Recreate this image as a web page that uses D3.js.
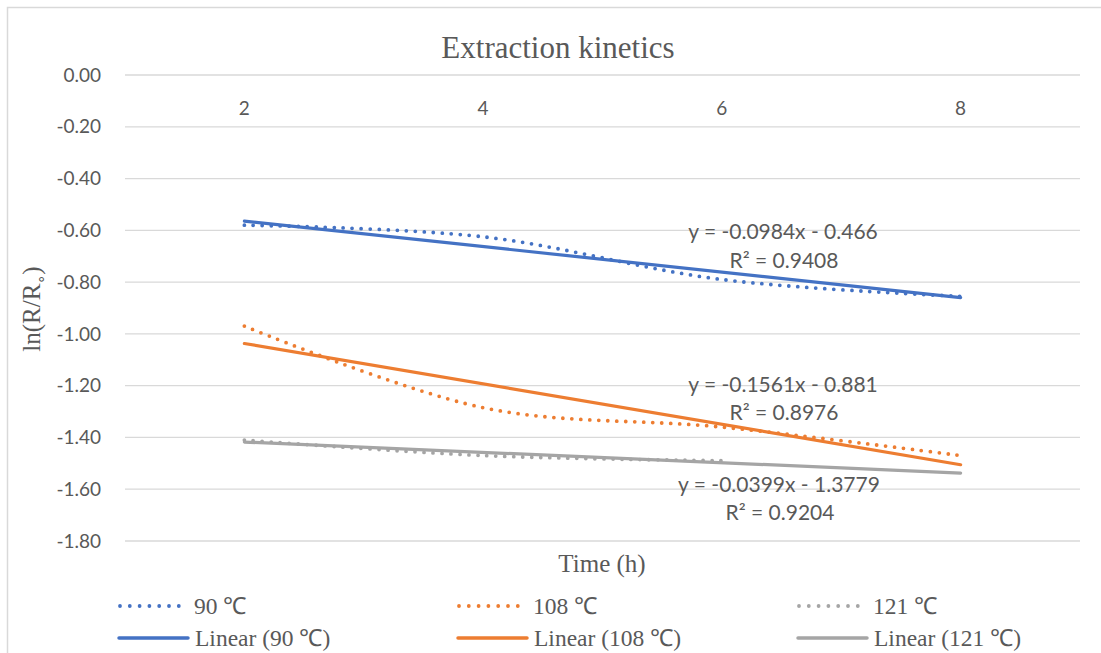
<!DOCTYPE html>
<html>
<head>
<meta charset="utf-8">
<script src="https://cdn.jsdelivr.net/npm/d3@7"></script>
<style>
  body { margin: 0; background: #fff; }
  svg { display: block; }
  .tick-label { font-family: Lato, "Open Sans", sans-serif; font-size: 19px; fill: #595959; }
  .serif { font-family: "Liberation Serif", "Times New Roman", serif; fill: #595959; }
  .eq { font-family: Lato, "Open Sans", sans-serif; font-size: 21px; fill: #595959; }
</style>
</head>
<body>
<div id="chart"></div>
<script>
// categories (time, h)
var times = ['2', '4', '6', '8'];

// ln(R/Ro) per temperature
var series90  = [-0.58, -0.625, -0.79, -0.855];
var series108 = [-0.97, -1.285, -1.36, -1.47];
var series121 = [-1.41, -1.47, -1.49, null];

var seriesNames = ['90 \u2103', '108 \u2103', '121 \u2103'];
var seriesColors = ['#4472C4', '#ED7D31', '#A5A5A5'];

// excel linear trendlines (x = category index 1..4)
var trendSlopes = [-0.0984, -0.1561, -0.0399];
var trendIntercepts = [-0.466, -0.881, -1.3779];
var trendR2 = ['0.9408', '0.8976', '0.9204'];

var yTicks = [0, -0.2, -0.4, -0.6, -0.8, -1.0, -1.2, -1.4, -1.6, -1.8];

var allSeries = [series90, series108, series121];

var width = 1101,
    height = 653,
    plot = {left: 125, right: 1080, top: 75, bottom: 541};

var svg = d3.select('#chart').append('svg')
    .attr('width', width)
    .attr('height', height);

// chart frame
svg.append('rect')
    .attr('x', 7.5).attr('y', 7.5)
    .attr('width', 1110).attr('height', 680)
    .attr('fill', 'none')
    .attr('stroke', '#D9D9D9')
    .attr('stroke-width', 1.5);

var x = d3.scaleBand()
    .domain(times)
    .range([plot.left, plot.right]);

var y = d3.scaleLinear()
    .domain([-1.8, 0])
    .range([plot.bottom, plot.top]);

function xc(i) { return x(times[i]) + x.bandwidth() / 2; }

// gridlines
svg.append('g')
    .selectAll('line')
    .data(yTicks)
    .enter().append('line')
    .attr('x1', plot.left).attr('x2', plot.right)
    .attr('y1', function(d) { return y(d); })
    .attr('y2', function(d) { return y(d); })
    .attr('stroke', '#D9D9D9')
    .attr('stroke-width', 1.3);

// y tick labels (plain hyphen like excel)
svg.append('g')
    .selectAll('text')
    .data(yTicks)
    .enter().append('text')
    .attr('class', 'tick-label')
    .attr('x', 101)
    .attr('y', function(d) { return y(d); })
    .attr('dy', '0.35em')
    .attr('text-anchor', 'end')
    .text(function(d) { return d3.format('.2f')(d).replace('\u2212', '-'); });

// x tick labels (axis sits at 0, labels below it)
svg.append('g')
    .selectAll('text')
    .data(times)
    .enter().append('text')
    .attr('class', 'tick-label')
    .attr('x', function(d, i) { return xc(i); })
    .attr('y', 108)
    .attr('dy', '0.35em')
    .attr('text-anchor', 'middle')
    .text(function(d) { return d; });

// title
svg.append('text')
    .attr('class', 'serif')
    .attr('x', 558).attr('y', 47)
    .attr('dy', '0.35em')
    .attr('text-anchor', 'middle')
    .style('font-size', '31px')
    .text('Extraction kinetics');

// axis titles
svg.append('text')
    .attr('class', 'serif')
    .attr('x', 602).attr('y', 563)
    .attr('dy', '0.35em')
    .attr('text-anchor', 'middle')
    .style('font-size', '25px')
    .text('Time (h)');

var yTitle = svg.append('text')
    .attr('class', 'serif')
    .attr('transform', 'translate(40,309) rotate(-90)')
    .attr('text-anchor', 'middle')
    .style('font-size', '25px');
yTitle.append('tspan').text('ln(R/R');
yTitle.append('tspan').attr('dy', 6).style('font-size', '15px').text('\u2218');
yTitle.append('tspan').attr('dy', -6).text(')');

// data lines, smoothed and dotted
var line = d3.line()
    .defined(function(d) { return d != null; })
    .x(function(d, i) { return xc(i); })
    .y(function(d) { return y(d); })
    .curve(d3.curveCatmullRom.alpha(0.5));

allSeries.forEach(function(s, k) {
    svg.append('path')
        .datum(s)
        .attr('d', line)
        .attr('fill', 'none')
        .attr('stroke', seriesColors[k])
        .attr('stroke-width', 3.8)
        .attr('stroke-linecap', 'round')
        .attr('stroke-dasharray', '0 9');
});

// trendlines
trendSlopes.forEach(function(m, k) {
    var pts = times.map(function(t, i) { return m * (i + 1) + trendIntercepts[k]; });
    svg.append('line')
        .attr('x1', xc(0)).attr('y1', y(pts[0]))
        .attr('x2', xc(times.length - 1)).attr('y2', y(pts[pts.length - 1]))
        .attr('stroke', seriesColors[k])
        .attr('stroke-width', 3.2)
        .attr('stroke-linecap', 'round');
});

// trendline equations
var eqPos = [[783, 232, 261], [783, 385, 413], [779, 485, 513]];
trendSlopes.forEach(function(m, k) {
    var b = trendIntercepts[k];
    var eq = 'y = ' + m + 'x ' + (b < 0 ? '- ' : '+ ') + Math.abs(b);
    svg.append('text')
        .attr('class', 'eq')
        .attr('x', eqPos[k][0]).attr('y', eqPos[k][1])
        .attr('dy', '0.35em')
        .attr('text-anchor', 'middle')
        .text(eq);
    svg.append('text')
        .attr('class', 'eq')
        .attr('x', eqPos[k][0] + 1).attr('y', eqPos[k][2])
        .attr('dy', '0.35em')
        .attr('text-anchor', 'middle')
        .text('R\u00b2 = ' + trendR2[k]);
});

// legend
var legendX = [118, 457, 797];
seriesNames.forEach(function(name, k) {
    var g = svg.append('g');
    g.append('line')
        .attr('x1', legendX[k] + 2).attr('x2', legendX[k] + 62)
        .attr('y1', 606).attr('y2', 606)
        .attr('stroke', seriesColors[k])
        .attr('stroke-width', 3.8)
        .attr('stroke-linecap', 'round')
        .attr('stroke-dasharray', '0 9.8');
    g.append('text')
        .attr('class', 'serif')
        .attr('x', legendX[k] + 76).attr('y', 606)
        .attr('dy', '0.35em')
        .style('font-size', '23.5px')
        .text(name);
    g.append('line')
        .attr('x1', legendX[k] + 1).attr('x2', legendX[k] + 70)
        .attr('y1', 638).attr('y2', 638)
        .attr('stroke', seriesColors[k])
        .attr('stroke-width', 3.5)
        .attr('stroke-linecap', 'round');
    g.append('text')
        .attr('class', 'serif')
        .attr('x', legendX[k] + 77).attr('y', 638)
        .attr('dy', '0.35em')
        .style('font-size', '23.5px')
        .text('Linear (' + name + ')');
});
</script>
</body>
</html>
